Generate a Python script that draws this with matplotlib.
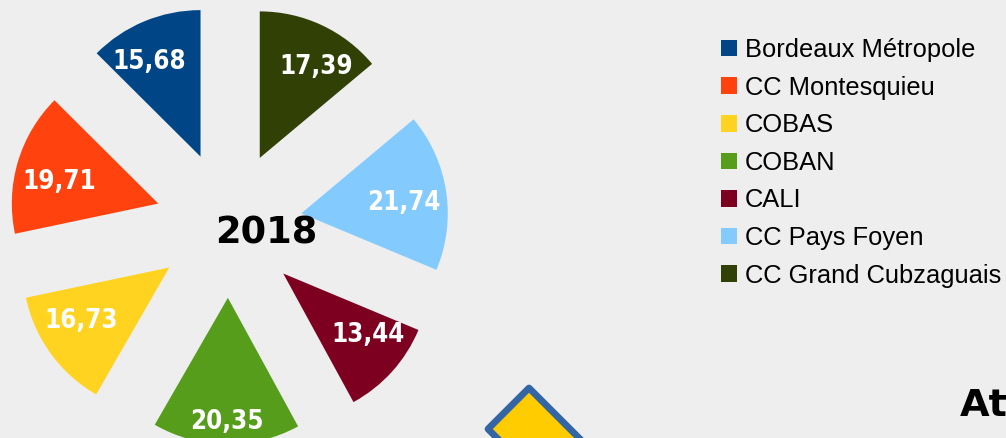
# Exploded pie chart, 2018 values per territory
import matplotlib
matplotlib.use("Agg")
import matplotlib.pyplot as plt
from matplotlib.patches import Polygon

# data
territories = ['Bordeaux Métropole', 'CC Montesquieu', 'COBAS', 'COBAN', 'CALI',
               'CC Pays Foyen', 'CC Grand Cubzaguais']
values = [15.68, 19.71, 16.73, 20.35, 13.44, 21.74, 17.39]
colors = ['#004586', '#ff420e', '#ffd320', '#579d1c', '#7e0021', '#83caff', '#314004']

# label centres in pixels of the picture
label_px = [(149, 62), (59, 182), (81, 321), (227, 422), (368, 335), (404, 203), (316, 67)]

W, H = 1006, 438
bg = '#eeeeee'

fig = plt.figure(figsize=(W / 100, H / 100), dpi=100, facecolor=bg)
ax = fig.add_axes([0, 0, 1, 1])

# explode is in data units here, so pixels
wedges, _, autotexts = ax.pie(values, colors=colors, startangle=90, counterclock=True,
                              explode=[73.4] * len(values), center=(228.7, H - 224.4),
                              radius=146.5, frame=True,
                              autopct=lambda p: f"{p * sum(values) / 100:.2f}".replace('.', ','))
ax.set_xlim(0, W)
ax.set_ylim(0, H)
ax.set_aspect('auto')
ax.axis('off')

for t, (x, y) in zip(autotexts, label_px):
    t.set_position((x, H - y))
    t.set(color='white', fontsize=18.5, fontweight='bold', family='DejaVu Sans',
          stretch='condensed', ha='center', va='center')

ax.text(266, H - 233, '2018', fontsize=26.5, fontweight='bold', family='DejaVu Sans',
        ha='center', va='center', color='black')
ax.text(960, H - 416, 'At', fontsize=27.5, fontweight='bold', family='DejaVu Sans',
        ha='left', va='baseline', color='black')

# road sign at the bottom, a long tilted box cut by the edge
sign = Polygon([(529, H - 388), (629, H - 488), (588, H - 529), (488, H - 429)], closed=True,
               facecolor='#ffcc00', edgecolor='#3465a4', linewidth=4.9, joinstyle='round')
ax.add_patch(sign)

leg = ax.legend(wedges, territories, loc='upper left', bbox_to_anchor=(721 / W, 1 - 38 / H),
                frameon=False, prop={'family': 'Liberation Sans', 'size': 18.4},
                handlelength=0.63, handleheight=0.63, handletextpad=0.3, labelspacing=0.533,
                borderpad=0, borderaxespad=0)

fig.savefig('out.png', dpi=100, facecolor=bg)
